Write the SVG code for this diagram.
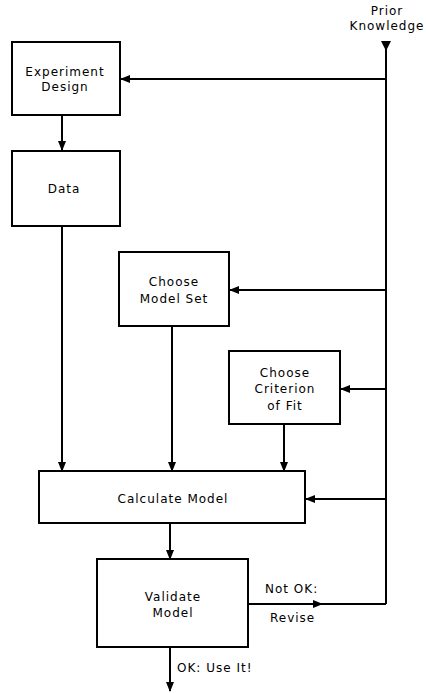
<svg xmlns="http://www.w3.org/2000/svg" width="426" height="693" viewBox="0 0 426 693">
<defs>
<style>
.box{fill:#fff;stroke:#000;stroke-width:2}
.ln{fill:none;stroke:#000;stroke-width:2}
text{font-family:"DejaVu Sans","Liberation Sans",sans-serif;font-size:12px;letter-spacing:1px;fill:#000;text-anchor:middle}
.l{text-anchor:start}
</style>
<marker id="ah" markerWidth="10" markerHeight="8" refX="9" refY="4" orient="auto" markerUnits="userSpaceOnUse">
<path d="M0,0 L10,4 L0,8 Z" fill="#000"/>
</marker>
</defs>
<rect width="426" height="693" fill="#fff"/>
<g id="connectors">
<path class="ln" d="M386,48 V604"/>
<path d="M381,41 L391,41 L386,51 Z" fill="#000"/>
<path class="ln" d="M386,79 H121" marker-end="url(#ah)"/>
<path class="ln" d="M62,115 V150" marker-end="url(#ah)"/>
<path class="ln" d="M62,226 V471" marker-end="url(#ah)"/>
<path class="ln" d="M386,290 H230" marker-end="url(#ah)"/>
<path class="ln" d="M172,326 V471" marker-end="url(#ah)"/>
<path class="ln" d="M386,389 H341" marker-end="url(#ah)"/>
<path class="ln" d="M284,424 V471" marker-end="url(#ah)"/>
<path class="ln" d="M386,499 H306" marker-end="url(#ah)"/>
<path class="ln" d="M170,523 V559" marker-end="url(#ah)"/>
<path class="ln" d="M248,604 H322" marker-end="url(#ah)"/>
<path class="ln" d="M320,604 H386"/>
<path class="ln" d="M170,647 V691" marker-end="url(#ah)"/>
</g>
<g id="prior"><text x="387" y="15">Prior</text><text x="387" y="30">Knowledge</text></g>
<g id="experiment-design"><rect class="box" x="12" y="42" width="108" height="73"/><text x="65" y="76">Experiment</text><text x="65" y="91">Design</text></g>
<g id="data"><rect class="box" x="12" y="151" width="108" height="75"/><text x="64" y="193">Data</text></g>
<g id="choose-model-set"><rect class="box" x="119" y="252" width="110" height="74"/><text x="174" y="286">Choose</text><text x="174" y="303">Model Set</text></g>
<g id="choose-criterion"><rect class="box" x="229" y="351" width="111" height="73"/><text x="285" y="377">Choose</text><text x="285" y="393">Criterion</text><text x="285" y="410">of Fit</text></g>
<g id="calculate-model"><rect class="box" x="39" y="471" width="266" height="52"/><text x="173" y="503">Calculate Model</text></g>
<g id="validate-model"><rect class="box" x="97" y="559" width="151" height="88"/><text x="173" y="601">Validate</text><text x="173" y="617">Model</text></g>
<g id="labels"><text class="l" x="265" y="593">Not OK:</text><text class="l" x="270" y="622">Revise</text><text class="l" x="177" y="672">OK: Use It!</text></g>
</svg>
